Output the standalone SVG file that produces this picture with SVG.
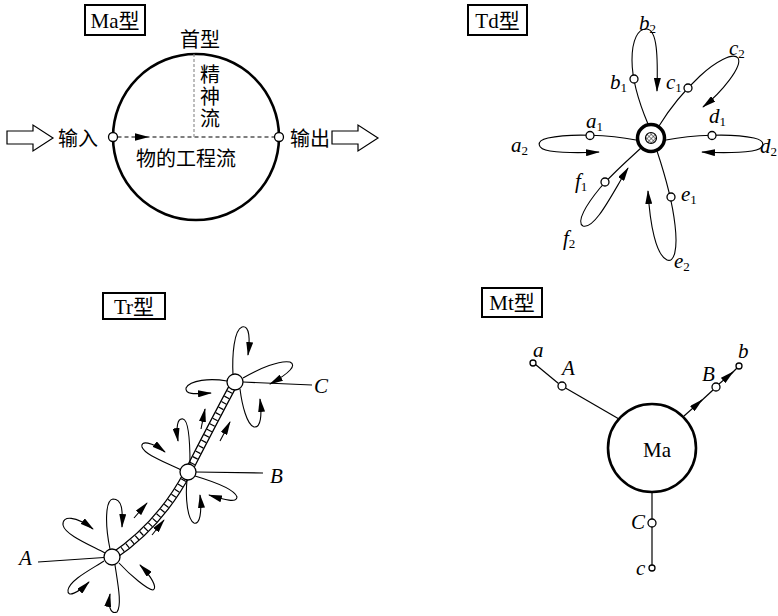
<svg xmlns="http://www.w3.org/2000/svg" width="778" height="616" viewBox="0 0 778 616">
<defs>
<style>
.ln{fill:none;stroke:#000;stroke-width:1.2}
.pt{fill:none;stroke:#000;stroke-width:1.1;marker-end:url(#ah)}
.nd{fill:#fff;stroke:#000;stroke-width:1.3}
.box{fill:#fff;stroke:#000;stroke-width:2}
.tt{font-family:"Liberation Serif","Noto Sans CJK SC",serif;font-size:21px;fill:#000}
.cj{font-family:"Noto Sans CJK SC","Liberation Serif",serif;font-size:20px;fill:#000}
.lb{font-family:"Liberation Serif",serif;font-style:italic;font-size:21px;fill:#000}
.sb{font-style:normal;font-size:13px}
</style>
<marker id="ah" viewBox="0 0 14 7" refX="13" refY="3.5" markerWidth="14" markerHeight="7" markerUnits="userSpaceOnUse" orient="auto">
<path d="M0,0 L14,3.5 L0,7 Z" fill="#000"/>
</marker>
<pattern id="hatch" width="3" height="3" patternUnits="userSpaceOnUse" patternTransform="rotate(45)">
<rect width="3" height="3" fill="#fff"/>
<path d="M0,0 V3 M0,0 H3" stroke="#000" stroke-width="0.9"/>
</pattern>
</defs>
<rect width="778" height="616" fill="#fff"/>

<!-- ===== Ma panel ===== -->
<g id="ma-panel">
<g id="ma-title"><rect class="box" x="85" y="5" width="60" height="30"/><text class="tt" x="115" y="28" text-anchor="middle">Ma型</text></g>
<g id="ma-circle"><circle cx="196" cy="137" r="83" fill="none" stroke="#000" stroke-width="2.6"/></g>
<g id="ma-connectors">
<line x1="117.5" y1="137" x2="274.5" y2="137" stroke="#000" stroke-width="1.2" stroke-dasharray="4 3"/>
<polygon points="135,133.2 149,137 135,140.8" fill="#000"/>
<line x1="194" y1="54" x2="194" y2="137" stroke="#888" stroke-width="1.1" stroke-dasharray="3 2"/>
<polygon points="7,131 33,131 33,125 53,138 33,151 33,144 7,144" fill="#fff" stroke="#000" stroke-width="1.2"/>
<polygon points="332,131 358,131 358,125 378,138 358,151 358,144 332,144" fill="#fff" stroke="#000" stroke-width="1.2"/>
</g>
<g id="ma-in"><circle class="nd" cx="113" cy="137" r="4.5"/></g>
<g id="ma-out"><circle class="nd" cx="279" cy="137" r="4.5"/></g>
<text class="cj" x="180" y="47">首型</text>
<text class="cj" x="210" y="64" writing-mode="vertical-rl" letter-spacing="2">精神流</text>
<text class="cj" x="136" y="166" font-size="22">物的工程流</text>
<text class="cj" x="58" y="146" font-size="21">输入</text>
<text class="cj" x="290" y="146" font-size="21">输出</text>
</g>

<!-- ===== Td panel ===== -->
<g id="td-panel">
<g id="td-title"><rect class="box" x="468" y="5" width="59" height="30"/><text class="tt" x="497.5" y="28" text-anchor="middle">Td型</text></g>
<g id="td-connectors">
<path class="pt" d="M636 140 C610 135,570 133,548 138 C535 141,537 149,550 151 C565 153,580 153,599 152"/>
<path class="pt" d="M666 140 C692 135,732 133,754 138 C767 141,765 149,752 151 C737 153,722 153,702 152"/>
<path class="pt" d="M648 124 C640 105,632 80,632 60 C632 40,638 28,647 29 C657 30,658 55,657 91"/>
<path class="pt" d="M659 126 C670 108,685 90,700 76 C715 62,733 52,738 58 C743 66,722 92,703 107"/>
<path class="pt" d="M657 151 C664 172,672 198,675 225 C678 250,674 263,667 260 C656 255,650 225,648 191"/>
<path class="pt" d="M641 148 C628 160,612 174,600 188 C586 205,576 222,583 226 C595 230,613 192,628 168"/>
</g>
<g id="td-center">
<circle cx="651" cy="138" r="13.5" fill="#fff" stroke="#000" stroke-width="3.5"/>
<circle cx="651" cy="138" r="5.5" fill="url(#hatch)" stroke="#000" stroke-width="1.2"/>
</g>
<g id="td-a1"><circle class="nd" cx="590" cy="135.5" r="4"/><text class="lb" x="586" y="128">a<tspan class="sb" dy="3">1</tspan></text></g>
<g id="td-a2"><text class="lb" x="511" y="152">a<tspan class="sb" dy="3">2</tspan></text></g>
<g id="td-b1"><circle class="nd" cx="634" cy="79" r="4"/><text class="lb" x="610" y="89">b<tspan class="sb" dy="3">1</tspan></text></g>
<g id="td-b2"><text class="lb" x="639" y="30">b<tspan class="sb" dy="3">2</tspan></text></g>
<g id="td-c1"><circle class="nd" cx="688" cy="88" r="4"/><text class="lb" x="666" y="89">c<tspan class="sb" dy="3">1</tspan></text></g>
<g id="td-c2"><text class="lb" x="729" y="55">c<tspan class="sb" dy="3">2</tspan></text></g>
<g id="td-d1"><circle class="nd" cx="712" cy="135.5" r="4"/><text class="lb" x="709" y="123">d<tspan class="sb" dy="3">1</tspan></text></g>
<g id="td-d2"><text class="lb" x="760" y="153">d<tspan class="sb" dy="3">2</tspan></text></g>
<g id="td-e1"><circle class="nd" cx="671" cy="197" r="4"/><text class="lb" x="681" y="201">e<tspan class="sb" dy="3">1</tspan></text></g>
<g id="td-e2"><text class="lb" x="674" y="268">e<tspan class="sb" dy="3">2</tspan></text></g>
<g id="td-f1"><circle class="nd" cx="605" cy="182" r="4"/><text class="lb" x="575" y="188">f<tspan class="sb" dy="3">1</tspan></text></g>
<g id="td-f2"><text class="lb" x="563" y="245">f<tspan class="sb" dy="3">2</tspan></text></g>
</g>

<!-- ===== Tr panel ===== -->
<g id="tr-panel">
<g id="tr-title"><rect class="box" x="103" y="293" width="62" height="26"/><text class="tt" x="134" y="314" text-anchor="middle">Tr型</text></g>
<g id="tr-connectors">
<path d="M112 557 Q160 525 188 472 Q212 425 235 382" fill="none" stroke="#000" stroke-width="8"/>
<path d="M112 557 Q160 525 188 472 Q212 425 235 382" fill="none" stroke="#fff" stroke-width="5.5"/>
<path d="M112 557 Q160 525 188 472 Q212 425 235 382" fill="none" stroke="#000" stroke-width="5.5" stroke-dasharray="1.2 5"/>
<!-- A petals -->
<path class="pt" d="M110 549 C105 525,105 500,113 499 C122 499,123 510,122 527"/>
<path class="pt" d="M105 553 C90 545,65 535,63 525 C62 515,76 516,93 529"/>
<path class="pt" d="M104 561 C90 570,70 580,68 590 C67 598,78 593,89 582"/>
<path class="pt" d="M115 565 C118 585,122 605,117 612 C110 615,108 605,110 594"/>
<path class="pt" d="M119 563 C130 575,148 590,153 590 C158 588,151 576,140 565"/>
<line class="ln" x1="104" y1="557.5" x2="38" y2="562"/>
<line class="pt" x1="134" y1="518" x2="147" y2="503"/>
<line class="pt" x1="152" y1="535" x2="164" y2="520"/>
<!-- B petals -->
<path class="pt" d="M190 464 C190 440,188 420,183 419 C177 418,176 428,178 441"/>
<path class="pt" d="M181 470 C165 462,145 455,142 447 C140 440,152 442,165 452"/>
<path class="pt" d="M187 480 C185 500,188 520,194 523 C200 525,202 512,200 495"/>
<path class="pt" d="M195 476 C215 482,235 490,237 497 C237 503,225 500,209 495"/>
<line class="ln" x1="196" y1="472" x2="263" y2="473"/>
<line class="pt" x1="201" y1="429" x2="205" y2="409"/>
<line class="pt" x1="220" y1="441" x2="230" y2="422"/>
<!-- C petals -->
<path class="pt" d="M233 375 C232 355,234 330,242 327 C250 325,250 340,248 355"/>
<path class="pt" d="M243 378 C260 368,280 360,290 362 C297 365,290 373,270 384"/>
<path class="pt" d="M227 381 C210 378,190 380,186 388 C185 395,195 394,211 393"/>
<path class="pt" d="M240 389 C242 405,247 425,254 427 C261 428,262 415,260 399"/>
<line class="ln" x1="243" y1="382" x2="312" y2="385"/>
</g>
<g id="tr-A"><circle class="nd" cx="112" cy="557" r="8"/><text class="lb" x="19" y="565">A</text></g>
<g id="tr-B"><circle class="nd" cx="188" cy="472" r="8"/><text class="lb" x="270" y="483">B</text></g>
<g id="tr-C"><circle class="nd" cx="235" cy="382" r="8"/><text class="lb" x="314" y="393">C</text></g>
</g>

<!-- ===== Mt panel ===== -->
<g id="mt-panel">
<g id="mt-title"><rect class="box" x="482" y="288" width="60" height="29"/><text class="tt" x="512" y="310" text-anchor="middle">Mt型</text></g>
<g id="mt-connectors">
<line class="ln" x1="619" y1="419" x2="565.5" y2="388"/>
<line class="ln" x1="558.5" y1="383.5" x2="535.5" y2="364.5"/>
<line class="pt" x1="684" y1="416" x2="702" y2="400"/>
<line class="ln" x1="700" y1="402" x2="713" y2="390"/>
<line class="pt" x1="719" y1="384" x2="733" y2="372"/>
<line class="ln" x1="731" y1="374" x2="737" y2="368"/>
<line class="ln" x1="652" y1="492" x2="652" y2="519"/>
<line class="ln" x1="652" y1="527" x2="652" y2="565"/>
</g>
<g id="mt-Ma"><circle cx="652" cy="448" r="44" fill="#fff" stroke="#000" stroke-width="2.6"/><text class="tt" x="657" y="457" text-anchor="middle" font-size="20">Ma</text></g>
<g id="mt-A"><circle class="nd" cx="562" cy="386" r="4"/><text class="lb" x="562" y="375">A</text></g>
<g id="mt-a"><circle class="nd" cx="533" cy="363" r="3"/><text class="lb" x="533" y="357">a</text></g>
<g id="mt-B"><circle class="nd" cx="716" cy="387" r="4"/><text class="lb" x="702" y="381">B</text></g>
<g id="mt-b"><circle class="nd" cx="739" cy="366" r="3"/><text class="lb" x="738" y="358">b</text></g>
<g id="mt-C"><circle class="nd" cx="652" cy="523" r="4"/><text class="lb" x="631" y="529">C</text></g>
<g id="mt-c"><circle class="nd" cx="652" cy="568" r="3"/><text class="lb" x="636" y="575">c</text></g>
</g>
</svg>
